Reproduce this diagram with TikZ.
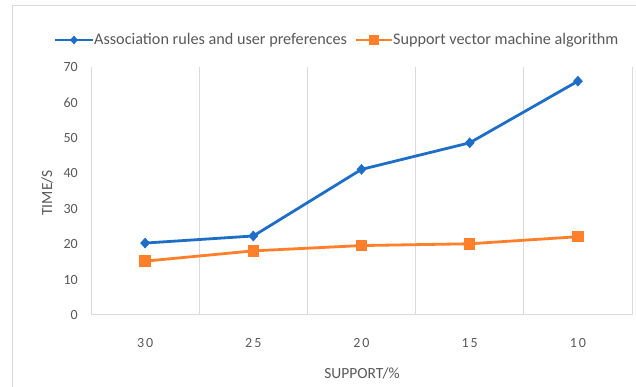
\documentclass[tikz,border=0pt]{standalone}
\usepackage{fontspec}
\setmainfont{Carlito}
\usetikzlibrary{shapes.geometric}
\definecolor{serA}{HTML}{1E6EC8}
\definecolor{serB}{HTML}{FF7F2A}
\definecolor{gridc}{HTML}{D9D9D9}
\definecolor{txtc}{HTML}{595959}
\tikzset{
  gridline/.style={draw=gridc, line width=1pt},
  lineA/.style={draw=serA, line width=2.8pt, line join=round},
  lineB/.style={draw=serB, line width=2.8pt, line join=round},
  markA/.style={diamond, fill=serA, inner sep=0pt, minimum width=10pt, minimum height=11pt},
  markB/.style={rectangle, fill=serB, inner sep=0pt, minimum size=11.5pt},
  ticklab/.style={text=txtc, font=\fontsize{14}{16}\selectfont, inner sep=0pt},
  axtitle/.style={text=txtc, font=\fontsize{15.5}{18}\selectfont, inner sep=0pt},
  legtext/.style={text=txtc, font=\fontsize{16.2}{19}\selectfont, inner sep=0pt, anchor=west},
}
\begin{document}
\begin{tikzpicture}[x=1pt,y=1pt]
\useasboundingbox (0,0) rectangle (636,387);
\fill[white] (0,0) rectangle (636,387);
% outer frame (left and top visible)
\draw[gridc, line width=1pt] (12,0) -- (12,381) -- (636,381);
% gridlines
\foreach \gx in {91,199.2,307.4,415.6,523.8,632} {
  \draw[gridline] (\gx,72) -- (\gx,320);
}
\draw[gridline] (91,72) -- (632,72);
% y tick labels
\foreach \v in {0,10,...,70} {
  \node[ticklab, anchor=east] (yt\v) at (78,{72+\v*3.543}) {\v};
}
% x tick labels
\node[ticklab] (xt1) at (145.1,44) {3\hspace{2pt}0};
\node[ticklab] (xt2) at (253.3,44) {2\hspace{2pt}5};
\node[ticklab] (xt3) at (361.5,44) {2\hspace{2pt}0};
\node[ticklab] (xt4) at (469.7,44) {1\hspace{2pt}5};
\node[ticklab] (xt5) at (577.9,44) {1\hspace{2pt}0};
% axis titles
\node[axtitle] (xtitle) at (362,14) {SUPPORT/\%};
\node[axtitle, rotate=90] (ytitle) at (47,194) {TIME/S};
% data
\coordinate (a1) at (145.1,{72+20.3*3.543});
\coordinate (a2) at (253.3,{72+22.3*3.543});
\coordinate (a3) at (361.5,{72+41.1*3.543});
\coordinate (a4) at (469.7,{72+48.6*3.543});
\coordinate (a5) at (577.9,{72+66.0*3.543});
\coordinate (b1) at (145.1,{72+15.2*3.543});
\coordinate (b2) at (253.3,{72+18.1*3.543});
\coordinate (b3) at (361.5,{72+19.6*3.543});
\coordinate (b4) at (469.7,{72+20.1*3.543});
\coordinate (b5) at (577.9,{72+22.1*3.543});
\draw[lineA] (a1) -- (a2) -- (a3) -- (a4) -- (a5);
\draw[lineB] (b1) -- (b2) -- (b3) -- (b4) -- (b5);
\foreach \i in {1,...,5} {
  \node[markA] (ma\i) at (a\i) {};
  \node[markB] (mb\i) at (b\i) {};
}
% legend
\coordinate (la0) at (55,347);
\coordinate (la1) at (93,347);
\draw[lineA] (la0) -- (la1);
\node[markA, minimum width=8pt, minimum height=9pt] (lma) at (74,347) {};
\node[legtext] (lta) at (94,347) {Association rules and user preferences};
\coordinate (lb0) at (356,347);
\coordinate (lb1) at (392,347);
\draw[lineB] (lb0) -- (lb1);
\node[markB, minimum size=10pt] (lmb) at (374,347) {};
\node[legtext] (ltb) at (393,347) {Support vector machine algorithm};
\end{tikzpicture}
\end{document}
